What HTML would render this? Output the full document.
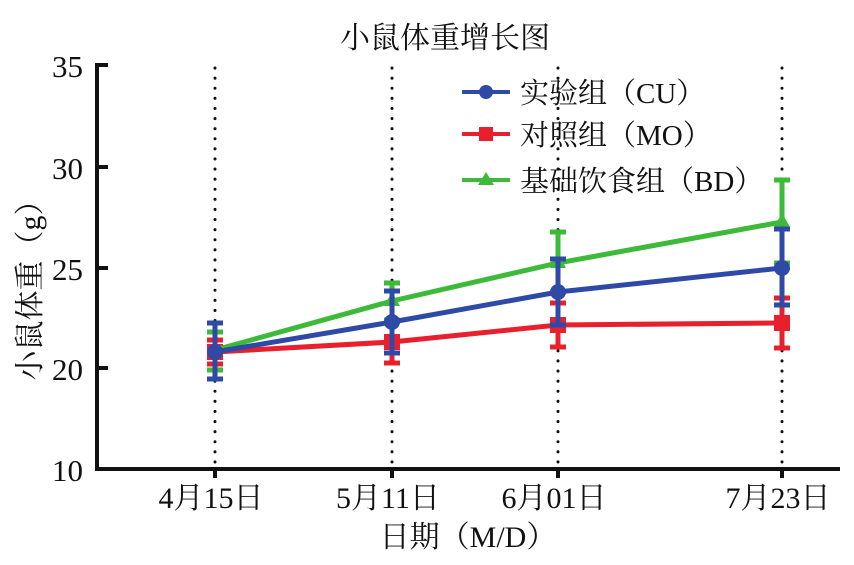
<!DOCTYPE html><html><head><meta charset="utf-8"><style>body{margin:0;background:#fff}</style></head><body>
<svg width="854" height="560" xmlns="http://www.w3.org/2000/svg" font-family="'Liberation Serif','Noto Serif CJK SC',serif">
<rect width="854" height="560" fill="#fff"/>
<text x="445" y="48" font-size="30" text-anchor="middle" fill="#111">小鼠体重增长图</text>
<g stroke="#111" stroke-width="3" stroke-dasharray="0.1 10" stroke-linecap="round">
<line x1="215" y1="68" x2="215" y2="466"/><line x1="392" y1="68" x2="392" y2="466"/><line x1="558" y1="68" x2="558" y2="466"/><line x1="782" y1="68" x2="782" y2="466"/></g>
<g stroke="#111" stroke-width="4" fill="none">
<polyline points="108,65 97,65 97,469 840,469"/>
<line x1="97" y1="167" x2="108" y2="167"/><line x1="97" y1="268" x2="108" y2="268"/><line x1="97" y1="368" x2="108" y2="368"/>
<line x1="215" y1="469" x2="215" y2="478"/><line x1="392" y1="469" x2="392" y2="478"/><line x1="558" y1="469" x2="558" y2="478"/><line x1="782" y1="469" x2="782" y2="478"/></g>
<g font-size="31" text-anchor="end" fill="#111"><text x="83" y="77">35</text><text x="83" y="179">30</text><text x="83" y="280">25</text><text x="83" y="380">20</text><text x="83" y="481">10</text></g>
<g font-size="30" text-anchor="middle" fill="#111"><text x="211" y="508">4月15日</text><text x="388" y="508">5月11日</text><text x="554" y="508">6月01日</text><text x="778" y="508">7月23日</text></g>
<text x="468" y="547" font-size="30" text-anchor="middle" fill="#111">日期（M/D）</text>
<text transform="translate(40,283) rotate(-90)" font-size="30" text-anchor="middle" fill="#111">小鼠体重（g）</text>
<g stroke="#e8202e" stroke-width="5" fill="#e8202e">
<polyline fill="none" points="215,352 392,342 558,325 782,323"/>
<path d="M215,340V364M392,337V363M558,303V347M782,298V348M207,340h16M207,364h16M384,337h16M384,363h16M550,303h16M550,347h16M774,298h16M774,348h16" />
<rect x="207" y="344" width="16" height="16" stroke="none"/><rect x="384" y="334" width="16" height="16" stroke="none"/><rect x="550" y="317" width="16" height="16" stroke="none"/><rect x="774" y="315" width="16" height="16" stroke="none"/></g>
<g stroke="#3dba3a" stroke-width="5" fill="#3dba3a">
<polyline fill="none" points="215,350 392,301 558,263 782,222"/>
<path d="M215,332V370M392,283V320M558,232V290M782,180V263M207,332h16M207,370h16M384,283h16M384,320h16M550,232h16M774,180h16M774,263h16"/>
<path d="M392,292l8,14h-16zM558,254l8,14h-16zM782,213l8,14h-16z" stroke="none"/></g>
<g stroke="#2e4aa6" stroke-width="5" fill="#2e4aa6">
<polyline fill="none" points="215,352 392,322 558,292 782,268"/>
<path d="M215,323V379M392,291V353M558,259V325M782,229V305M207,323h16M207,379h16M384,291h16M384,353h16M550,259h16M550,325h16M774,229h16M774,305h16"/>
<circle cx="215" cy="352" r="8" stroke="none"/><circle cx="392" cy="322" r="8" stroke="none"/><circle cx="558" cy="292" r="8" stroke="none"/><circle cx="782" cy="268" r="8" stroke="none"/></g>
<line x1="462" y1="92" x2="510" y2="92" stroke="#2e4aa6" stroke-width="4"/><circle cx="486" cy="92" r="7" fill="#2e4aa6"/>
<line x1="462" y1="134" x2="510" y2="134" stroke="#e8202e" stroke-width="4"/><rect x="479" y="127" width="14" height="14" fill="#e8202e"/>
<line x1="462" y1="180" x2="510" y2="180" stroke="#3dba3a" stroke-width="4"/><path d="M486,172l8,13h-16z" fill="#3dba3a"/>
<g font-size="29" fill="#111"><text x="520" y="103">实验组（CU）</text><text x="520" y="145">对照组（MO）</text><text x="520" y="191">基础饮食组（BD）</text></g>
</svg></body></html>
